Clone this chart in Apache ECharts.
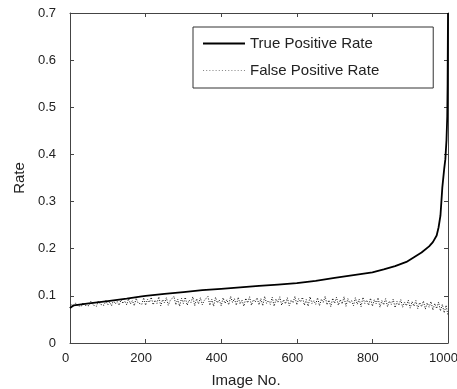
<!DOCTYPE html>
<html>
<head>
<meta charset="utf-8">
<script src="https://cdn.jsdelivr.net/npm/echarts@6/dist/echarts.min.js"></script>
<style>html,body{margin:0;padding:0;background:#fff;}#c{width:457px;height:389px;}</style>
</head>
<body>
<div id="c"></div>
<script>
const xTicks = [0, 200, 400, 600, 800, 1000];
const yTicks = [0, 0.1, 0.2, 0.3, 0.4, 0.5, 0.6, 0.7];

const tprX = [0, 3, 10, 50, 100, 150, 190, 200, 250, 300, 350, 400, 450, 500, 550, 600, 650, 700, 750, 800, 830, 860, 890, 910, 930, 950, 960, 970, 975, 980, 985, 990, 993, 996, 998, 999, 1000];
const tprY = [0.074, 0.078, 0.080, 0.084, 0.089, 0.094, 0.099, 0.100, 0.104, 0.108, 0.112, 0.115, 0.118, 0.121, 0.124, 0.127, 0.132, 0.138, 0.144, 0.150, 0.156, 0.163, 0.172, 0.182, 0.192, 0.205, 0.214, 0.228, 0.245, 0.270, 0.330, 0.370, 0.390, 0.430, 0.480, 0.550, 0.700];

const fprStep = 5;
const fprY = [
  0.075,0.082,0.077,0.085,0.079,0.083,0.078,0.086,0.080,0.084,
  0.079,0.088,0.081,0.085,0.078,0.089,0.082,0.086,0.080,0.090,
  0.081,0.087,0.079,0.091,0.083,0.088,0.080,0.092,0.084,0.089,
  0.081,0.094,0.083,0.090,0.079,0.095,0.085,0.089,0.082,0.096,
  0.080,0.093,0.086,0.097,0.081,0.091,0.084,0.098,0.079,0.092,
  0.085,0.096,0.080,0.090,0.087,0.099,0.081,0.093,0.078,0.095,
  0.084,0.097,0.080,0.091,0.086,0.098,0.079,0.094,0.083,0.096,
  0.081,0.090,0.087,0.099,0.080,0.093,0.078,0.097,0.085,0.091,
  0.079,0.096,0.084,0.092,0.081,0.099,0.086,0.094,0.080,0.097,
  0.083,0.091,0.078,0.095,0.085,0.098,0.080,0.092,0.087,0.096,
  0.081,0.094,0.079,0.099,0.084,0.090,0.082,0.097,0.078,0.093,
  0.086,0.098,0.080,0.092,0.083,0.096,0.079,0.091,0.085,0.099,
  0.081,0.094,0.087,0.097,0.080,0.092,0.078,0.098,0.084,0.090,
  0.082,0.096,0.079,0.093,0.086,0.099,0.081,0.091,0.077,0.095,
  0.084,0.097,0.080,0.092,0.083,0.098,0.078,0.094,0.085,0.090,
  0.079,0.096,0.082,0.093,0.077,0.097,0.084,0.091,0.080,0.095,
  0.078,0.092,0.083,0.096,0.076,0.090,0.081,0.094,0.077,0.089,
  0.082,0.093,0.075,0.088,0.080,0.092,0.076,0.087,0.079,0.091,
  0.074,0.088,0.078,0.090,0.073,0.086,0.077,0.089,0.072,0.085,
  0.076,0.088,0.070,0.084,0.073,0.087,0.068,0.082,0.064,0.080,
  0.058
];

const tprData = tprX.map((x, i) => [x, tprY[i]]);
const fprData = fprY.map((y, i) => [i * fprStep, y]);

const axisCol = '#444';
const textCol = '#222';
const FONT = 'Liberation Sans, Arial, sans-serif';

let dotPath = 'path://';
for (let i = 0; i < 14; i++) { dotPath += 'M' + (i * 3) + ',0h1v1h-1z'; }

const chart = echarts.init(document.getElementById('c'), null, {renderer: 'canvas'});
const baseX = {
  type: 'value', min: 0, max: 1000, interval: 200,
  axisLine: {show: true, onZero: false, lineStyle: {color: axisCol, width: 1}},
  axisTick: {show: true, inside: true, length: 4, lineStyle: {color: axisCol}},
  splitLine: {show: false}
};
const baseY = {
  type: 'value', min: 0, max: 0.7, interval: 0.1,
  axisLine: {show: true, onZero: false, lineStyle: {color: axisCol, width: 1}},
  axisTick: {show: true, inside: true, length: 4, lineStyle: {color: axisCol}},
  splitLine: {show: false}
};

chart.setOption({
  animation: false,
  backgroundColor: '#fff',
  grid: {left: 70, right: 9, top: 13, bottom: 46, containLabel: false, outerBoundsMode: 'none'},
  xAxis: [
    Object.assign({}, baseX, {
      position: 'bottom',
      name: 'Image No.', nameLocation: 'middle', nameGap: 30,
      nameTextStyle: {fontFamily: FONT, fontSize: 15, color: textCol, padding: [0, 26, 0, 0]},
      axisLabel: {fontFamily: FONT, fontSize: 13, color: textCol, margin: 9, padding: [0, 9, 0, 0],
        formatter: v => xTicks.indexOf(v) >= 0 ? String(v) : ''}
    }),
    Object.assign({}, baseX, {position: 'top', axisLabel: {show: false}})
  ],
  yAxis: [
    Object.assign({}, baseY, {
      position: 'left',
      name: 'Rate', nameLocation: 'middle', nameGap: 42, nameRotate: 90,
      nameTextStyle: {fontFamily: FONT, fontSize: 15, color: textCol},
      axisLabel: {fontFamily: FONT, fontSize: 13, color: textCol, margin: 14, padding: [0, 0, 4, 0],
        formatter: v => { const t = yTicks.find(k => Math.abs(k - v) < 1e-9); return t === undefined ? '' : (t === 0 ? '0' : t.toFixed(1)); }}
    }),
    Object.assign({}, baseY, {position: 'right', axisLabel: {show: false}})
  ],
  legend: {
    left: 193, top: 27, orient: 'vertical',
    padding: [9, 54, 10, 10],
    itemGap: 12, itemWidth: 42, itemHeight: 14,
    borderColor: '#333', borderWidth: 1, backgroundColor: '#fff',
    textStyle: {fontFamily: FONT, fontSize: 15, color: textCol},
    data: [
      {name: 'True Positive Rate', icon: 'path://M0,6 L42,6 L42,8 L0,8 Z', itemStyle: {color: '#000'}},
      {name: 'False Positive Rate', icon: dotPath, itemStyle: {color: '#888'}}
    ]
  },
  series: [
    {
      name: 'False Positive Rate', type: 'line', data: fprData, symbol: 'none',
      xAxisIndex: 0, yAxisIndex: 0,
      lineStyle: {color: '#111', width: 1, type: [1, 1.6]},
      itemStyle: {color: '#888'}, z: 2
    },
    {
      name: 'True Positive Rate', type: 'line', data: tprData, symbol: 'none',
      xAxisIndex: 0, yAxisIndex: 0,
      lineStyle: {color: '#000', width: 1.8},
      itemStyle: {color: '#000'}, z: 3
    }
  ]
});
</script>
</body>
</html>
